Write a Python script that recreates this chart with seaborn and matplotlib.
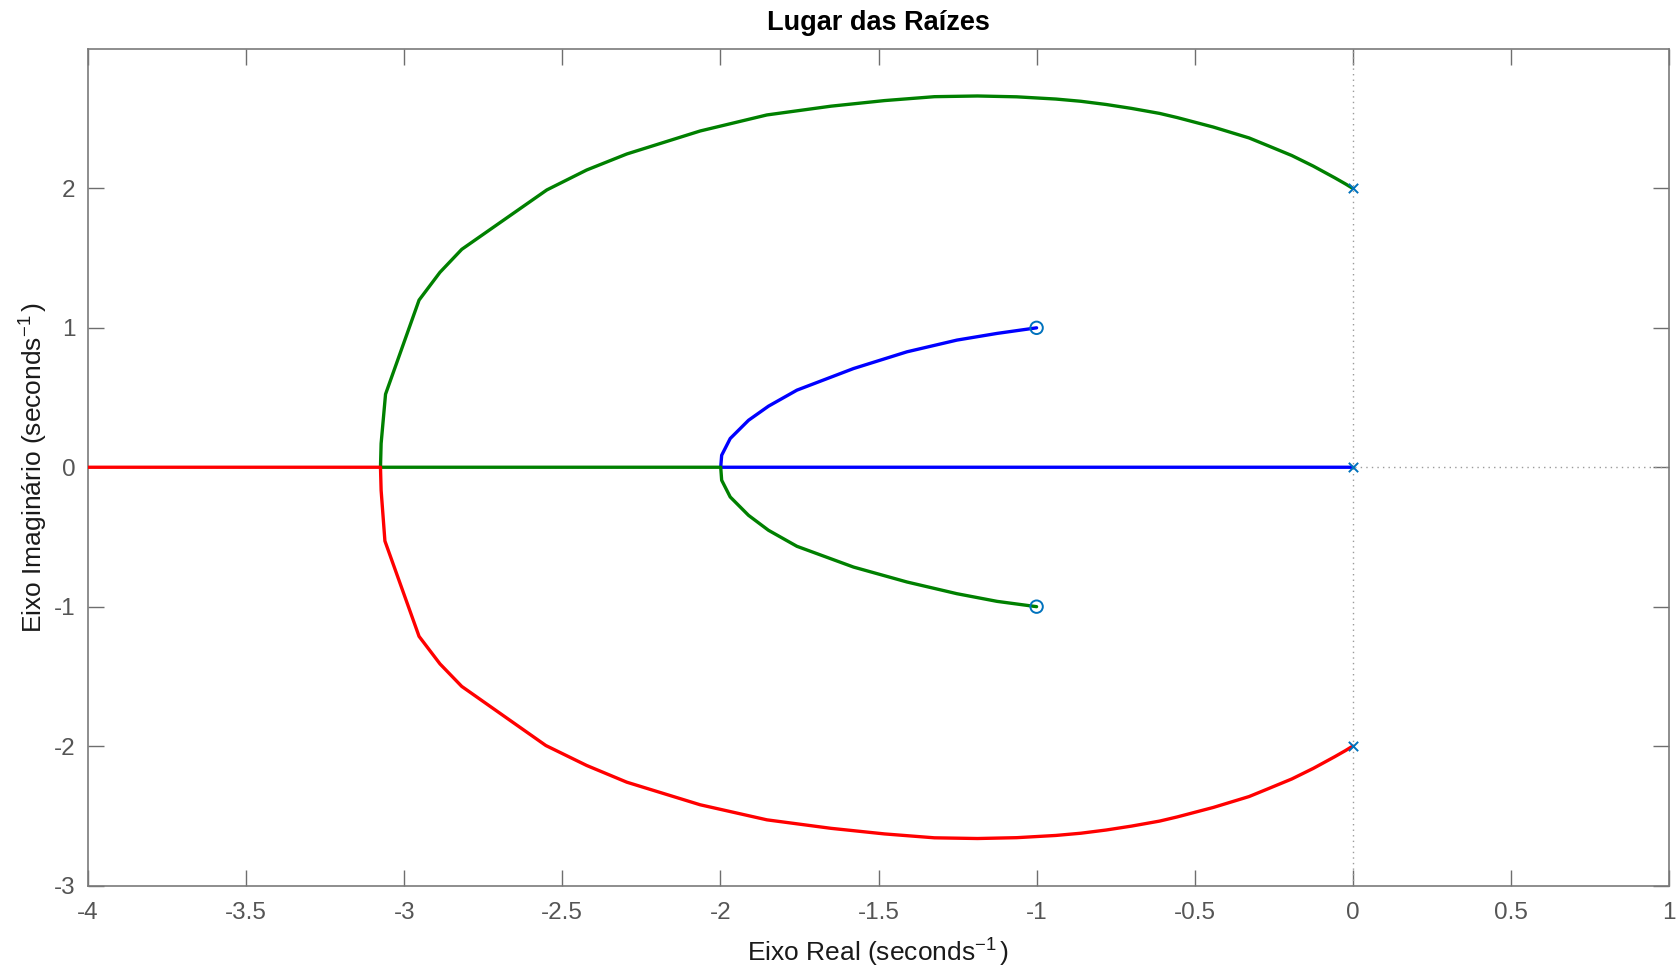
import numpy as np
import pandas as pd
import matplotlib
matplotlib.use("Agg")
import matplotlib.pyplot as plt
import seaborn as sns

# Root locus branches (real part, imaginary part), ordered from pole to end point
blue_re = [0.0, -1.0, -1.999, -1.996, -1.969, -1.911, -1.848, -1.758, -1.579, -1.41, -1.252, -1.125, -1.0]
blue_im = [0.0, 0.0, 0.0, 0.086, 0.206, 0.337, 0.438, 0.553, 0.708, 0.828, 0.912, 0.96, 1.0]

green_re = [0.0, -0.023, -0.057, -0.091, -0.125, -0.193, -0.272, -0.328, -0.441, -0.555, -0.611,
            -0.70, -0.78, -0.86, -0.939, -1.063, -1.187, -1.323, -1.481, -1.65, -1.853,
            -2.064, -2.296, -2.423, -2.549, -2.818, -2.887, -2.953, -3.059, -3.073, -3.075,
            -2.5, -1.999, -1.996, -1.969, -1.911, -1.848, -1.758, -1.579, -1.41, -1.252,
            -1.125, -1.0]
green_im = [2.0, 2.032, 2.076, 2.118, 2.16, 2.236, 2.31, 2.362, 2.44, 2.508, 2.538,
            2.574, 2.602, 2.625, 2.641, 2.657, 2.663, 2.658, 2.63, 2.59, 2.527,
            2.412, 2.247, 2.132, 1.989, 1.563, 1.398, 1.199, 0.524, 0.17, 0.0,
            0.0, 0.0, -0.093, -0.213, -0.345, -0.452, -0.567, -0.716, -0.823, -0.907,
            -0.962, -1.0]

red_re = [0.0, -0.023, -0.057, -0.091, -0.125, -0.193, -0.272, -0.328, -0.441, -0.555, -0.611,
          -0.70, -0.78, -0.86, -0.939, -1.063, -1.187, -1.323, -1.481, -1.65, -1.853,
          -2.064, -2.296, -2.423, -2.552, -2.818, -2.887, -2.953, -3.061, -3.073, -3.075,
          -3.5, -4.0]
red_im = [-2.0, -2.032, -2.076, -2.118, -2.16, -2.236, -2.31, -2.362, -2.44, -2.508, -2.538,
          -2.574, -2.602, -2.625, -2.641, -2.657, -2.663, -2.658, -2.63, -2.59, -2.529,
          -2.421, -2.259, -2.139, -1.996, -1.572, -1.41, -1.213, -0.529, -0.165, 0.0,
          0.0, 0.0]

# Open-loop poles and zeros
pole_re = [0.0, 0.0, 0.0]
pole_im = [2.0, 0.0, -2.0]
zero_re = [-1.0, -1.0]
zero_im = [1.0, -1.0]

x_ticks = [-4, -3.5, -3, -2.5, -2, -1.5, -1, -0.5, 0, 0.5, 1]
x_tick_labels = ["-4", "-3.5", "-3", "-2.5", "-2", "-1.5", "-1", "-0.5", "0", "0.5", "1"]
y_ticks = [-3, -2, -1, 0, 1, 2]
y_tick_labels = ["-3", "-2", "-1", "0", "1", "2"]

sns.set_theme(style="white")
plt.rcParams["font.family"] = ["Liberation Sans", "DejaVu Sans"]
plt.rcParams["mathtext.fontset"] = "custom"
plt.rcParams["mathtext.rm"] = "Liberation Sans"
plt.rcParams["mathtext.it"] = "Liberation Sans:italic"
plt.rcParams["axes.unicode_minus"] = False

fig = plt.figure(figsize=(16.8, 9.69), dpi=100)
ax = fig.add_axes([88 / 1680, 1 - 885.5 / 969, (1669 - 88) / 1680, (885.5 - 49) / 969])

# Reference axes through the origin
ax.axvline(0, color="#9a9a9a", lw=1.0, ls=(0, (1, 3)), zorder=1)
ax.axhline(0, color="#9a9a9a", lw=1.0, ls=(0, (1, 3)), zorder=1)

lw = 2.4
branches = [
    (blue_re, blue_im, "#0000ff"),
    (green_re, green_im, "#008000"),
    (red_re, red_im, "#ff0000"),
]
for re_vals, im_vals, col in branches:
    df = pd.DataFrame({"re": re_vals, "im": im_vals})
    sns.lineplot(data=df, x="re", y="im", sort=False, estimator=None,
                 color=col, lw=lw, ax=ax, zorder=3)

marker_col = "#0072bd"
sns.scatterplot(x=pole_re, y=pole_im, marker="x", s=45, color=marker_col,
                linewidth=1.4, ax=ax, zorder=5)
sns.scatterplot(x=zero_re, y=zero_im, marker="o", s=80, facecolor="none",
                edgecolor=marker_col, linewidth=1.4, ax=ax, zorder=5)

ax.set_xlim(-4, 1)
ax.set_ylim(-3, 3)
ax.set_xticks(x_ticks)
ax.set_xticklabels(x_tick_labels)
ax.set_yticks(y_ticks)
ax.set_yticklabels(y_tick_labels)

tick_col = "#555555"
ax.tick_params(axis="both", direction="in", length=11.5, width=1.0, color="#6e6e6e",
               labelsize=17.5, labelcolor=tick_col, top=True, right=True,
               bottom=True, left=True)
ax.tick_params(axis="x", pad=12)
ax.tick_params(axis="y", pad=9)
for sp in ax.spines.values():
    sp.set_color("#7a7a7a")
    sp.set_linewidth(1.2)
    sp.set_visible(True)

ax.set_xlabel("Eixo Real (seconds$^{-1}$$\\,$)", fontsize=19, color="#1a1a1a", labelpad=9)
ax.set_ylabel("Eixo Imaginário (seconds$^{-1}$$\\,$)", fontsize=19, color="#1a1a1a", labelpad=3)
ax.set_title("Lugar das Raízes", fontsize=19.5, fontweight="bold", color="#000000", pad=14)

fig.savefig("out.png", dpi=100, facecolor="white")
